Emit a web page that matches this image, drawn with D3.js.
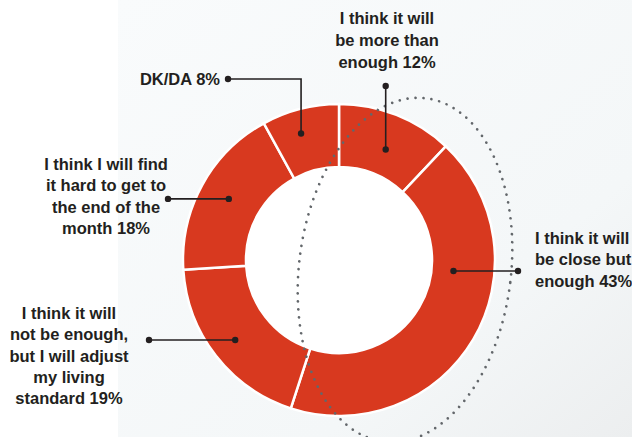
<!DOCTYPE html>
<html>
<head>
<meta charset="utf-8">
<script src="https://cdn.jsdelivr.net/npm/d3@7"></script>
<style>
	html, body { margin: 0; padding: 0; background: #fff; }
	svg { display: block; }
	text { font-family: "Liberation Sans", Arial, sans-serif; font-weight: bold; fill: #231f20; }
</style>
</head>
<body>
<div id="donutView"></div>
<script>
// data (clockwise from 12 o'clock)
const categories = [
	["I think it will", "be more than", "enough"],
	["I think it will", "be close but", "enough"],
	["I think it will", "not be enough,", "but I will adjust", "my living", "standard"],
	["I think I will find", "it hard to get to", "the end of the", "month"],
	["DK/DA"]
];
const values = [12, 43, 19, 18, 8];

// where each leader starts on the ring, and where its label sits
const leaders = [
	{angle: 22.9, r: 120, path: [[0, 86]], mode: "v", tx: 387, ty: 18, anchor: "middle"},
	{angle: 95.5, r: 115, path: [[518, 0]], mode: "h", tx: 535, ty: 238, anchor: "start"},
	{angle: 232.4, r: 131, path: [[149, 0]], mode: "h", tx: 69, ty: 313, anchor: "middle"},
	{angle: 299, r: 126, path: [[168, 0]], mode: "h", tx: 106, ty: 164, anchor: "middle"},
	{angle: 343.3, r: 132, path: [[0, 79], [228, 79]], mode: "v", tx: 220, ty: 79, anchor: "end"}
];

let dims = {width: 632, height: 437, cx: 339, cy: 260, outer: 156, inner: 93};

let svg = d3.select("#donutView")
	.append("svg")
	.attr("width", dims.width)
	.attr("height", dims.height)

// soft backdrop like the photo behind the chart
let grad = svg.append("defs").append("linearGradient")
	.attr("id", "bg")
	.attr("x1", 0).attr("y1", 0).attr("x2", 1).attr("y2", 1)
grad.append("stop").attr("offset", "0%").attr("stop-color", "#f9fbfc")
grad.append("stop").attr("offset", "70%").attr("stop-color", "#f4f7f8")
grad.append("stop").attr("offset", "100%").attr("stop-color", "#eceeef")

svg.append("rect").attr("width", dims.width).attr("height", dims.height).attr("fill", "#fff")
svg.append("rect")
	.attr("x", 118).attr("width", dims.width - 118).attr("height", dims.height)
	.attr("fill", "url(#bg)")

let pie = d3.pie().sort(null).value(d => d)
let arc = d3.arc().innerRadius(dims.inner).outerRadius(dims.outer)

let g = svg.append("g").attr("transform", `translate(${dims.cx},${dims.cy})`)

g.append("circle").attr("r", dims.inner).attr("fill", "#fff")

g.selectAll("path.slice")
	.data(pie(values))
	.enter()
	.append("path")
	.classed("slice", true)
	.attr("d", arc)
	.attr("fill", "#d8391f")
	.attr("stroke", "#fff")
	.attr("stroke-width", 2.5)

// dotted ellipse
svg.append("ellipse")
	.attr("transform", "translate(405,270) rotate(7)")
	.attr("rx", 106).attr("ry", 173)
	.attr("fill", "none")
	.attr("stroke", "#63676b")
	.attr("stroke-width", 2.7)
	.attr("stroke-linecap", "round")
	.attr("stroke-dasharray", "0 8")

// leaders
leaders.forEach(function(l) {
	let a = l.angle * Math.PI / 180;
	let x0 = dims.cx + l.r * Math.sin(a);
	let y0 = dims.cy - l.r * Math.cos(a);
	let pts = [[x0, y0]];
	let last = [x0, y0];
	l.path.forEach(function(p, i) {
		let horiz = (l.mode === "h") ? (i % 2 === 0) : (i % 2 === 1);
		let next = horiz ? [p[0], last[1]] : [last[0], p[1]];
		pts.push(next);
		last = next;
	});
	svg.append("path")
		.attr("d", d3.line()(pts))
		.attr("fill", "none")
		.attr("stroke", "#231f20")
		.attr("stroke-width", 1.6)
	svg.append("circle").attr("cx", x0).attr("cy", y0).attr("r", 3.2).attr("fill", "#231f20")
	svg.append("circle").attr("cx", last[0]).attr("cy", last[1]).attr("r", 3.2).attr("fill", "#231f20")
});

// labels
categories.forEach(function(lines, i) {
	let l = leaders[i];
	let txt = lines.slice();
	txt[txt.length - 1] += " " + values[i] + "%";
	let lh = txt.length > 3 ? 21.3 : 22;
	if (i === 1) lh = 21.5;
	svg.append("text")
		.attr("text-anchor", l.anchor)
		.attr("font-size", 16.5)
		.selectAll("tspan")
		.data(txt)
		.enter()
		.append("tspan")
		.attr("x", l.tx)
		.attr("y", (d, k) => l.ty + k * lh)
		.attr("dy", "0.36em")
		.text(d => d)
});
</script>
</body>
</html>
